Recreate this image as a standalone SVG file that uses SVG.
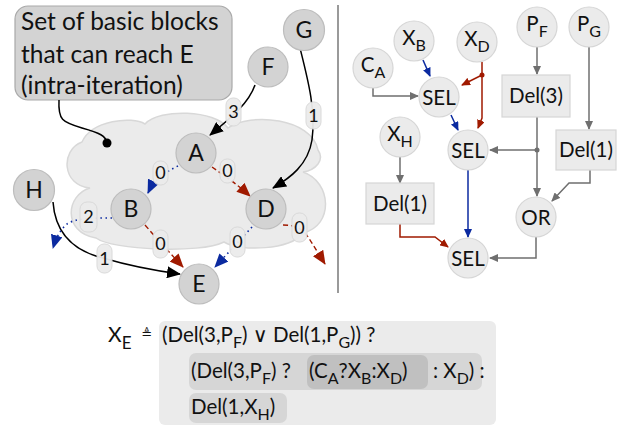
<svg xmlns="http://www.w3.org/2000/svg" width="617" height="427" viewBox="0 0 617 427">
<defs>
<style>
text{font-family:"Lato","Open Sans","DejaVu Sans",sans-serif;fill:#111}
.ln{fill:#d3d3d3;stroke:#bdbdbd;stroke-width:1.2}
.rn{fill:#ebebeb;stroke:#d6d6d6;stroke-width:1.2}
.lt{font-size:23px;text-anchor:middle}
.rt{font-size:20.5px;text-anchor:middle}
.pill{fill:#ececec;stroke:#d9d9d9;stroke-width:1;opacity:0.95}
.pt{font-size:18px;text-anchor:middle}
.blk{fill:none;stroke:#000;stroke-width:1.5}
.bd{fill:none;stroke:#0b2aa0;stroke-width:1.6;stroke-dasharray:1.5 3.5}
.rd{fill:none;stroke:#a01a00;stroke-width:1.4;stroke-dasharray:5 3}
.g{fill:none;stroke:#6f6f6f;stroke-width:1.5}
.rb{fill:none;stroke:#0b2aa0;stroke-width:1.5}
.rr{fill:none;stroke:#a01a00;stroke-width:1.5}
.f{font-size:20.5px}
</style>
<marker id="mk" markerWidth="14" markerHeight="12" refX="13" refY="6" orient="auto" markerUnits="userSpaceOnUse"><path d="M0,0 L14,6 L0,12 z" fill="#000"/></marker>
<marker id="mb" markerWidth="14" markerHeight="12" refX="13" refY="6" orient="auto" markerUnits="userSpaceOnUse"><path d="M0,0 L14,6 L0,12 z" fill="#0b2aa0"/></marker>
<marker id="mr" markerWidth="14" markerHeight="12" refX="13" refY="6" orient="auto" markerUnits="userSpaceOnUse"><path d="M0,0 L14,6 L0,12 z" fill="#a01a00"/></marker>
<marker id="sg" markerWidth="9" markerHeight="8" refX="8" refY="4" orient="auto" markerUnits="userSpaceOnUse"><path d="M0,0 L9,4 L0,8 z" fill="#6f6f6f"/></marker>
<marker id="sb" markerWidth="9" markerHeight="8" refX="8" refY="4" orient="auto" markerUnits="userSpaceOnUse"><path d="M0,0 L9,4 L0,8 z" fill="#0b2aa0"/></marker>
<marker id="sr" markerWidth="9" markerHeight="8" refX="8" refY="4" orient="auto" markerUnits="userSpaceOnUse"><path d="M0,0 L9,4 L0,8 z" fill="#a01a00"/></marker>
</defs>
<rect width="617" height="427" fill="#fff"/>

<g id="cloud">
<path d="M90 188 C62 186 60 150 82 142 C92 120 132 116 145 124 C160 108 215 110 228 128 C250 112 312 118 318 150 C325 160 316 170 303 172 C332 182 334 226 303 233 C292 250 240 252 224 242 C200 254 112 250 96 238 C62 232 66 195 90 188 Z" fill="#ebebeb" stroke="#d8d8d8" stroke-width="1.5"/>
</g>

<g id="label">
<rect x="15" y="6" width="217" height="94" rx="13" fill="#d3d3d3" stroke="#a9a9a9" stroke-width="1.2"/>
<text x="21" y="30" font-size="24.5">Set of basic blocks</text>
<text x="21" y="63" font-size="24.5">that can reach E</text>
<text x="21" y="94" font-size="24.5">(intra-iteration)</text>
</g>

<g id="divider"><line x1="338" y1="5" x2="338" y2="293" stroke="#9a9a9a" stroke-width="2"/></g>

<g id="connectors">
<path class="blk" d="M59 100 C58 120 62 122 82 128 C100 133 106 136 107 143"/>
<circle cx="107" cy="143" r="4.5" fill="#000"/>
<path class="blk" d="M255 85 C248 105 228 120 210 135" marker-end="url(#mk)"/>
<path class="blk" d="M300 48 C308 80 316 110 312 140 C308 165 290 178 273 188" marker-end="url(#mk)"/>
<path class="blk" d="M53 202 C55 230 70 250 103 258 C130 266 150 270 180 274" marker-end="url(#mk)"/>
<path class="bd" d="M178 166 C165 172 154 180 148 193" marker-end="url(#mb)"/>
<path class="rd" d="M212 167 C225 176 238 185 250 196" marker-end="url(#mr)"/>
<path class="bd" d="M112 218 C95 218 75 218 67 224 C60 230 56 238 53 248" marker-end="url(#mb)"/>
<path class="rd" d="M145 225 C158 240 170 253 183 267" marker-end="url(#mr)"/>
<path class="bd" d="M252 227 C240 240 228 253 215 267" marker-end="url(#mb)"/>
<path class="rd" d="M283 225 C300 225 305 232 310 240 C315 248 320 256 325 264" marker-end="url(#mr)"/>

<path class="rb" d="M423 60 L430 76" marker-end="url(#sb)"/>
<path class="g" d="M373 88 L373 96 L418 96" marker-end="url(#sg)"/>
<path class="rr" d="M482 62 L482 118 L478 128" marker-end="url(#sr)"/>
<path class="rr" d="M482 75 L462 85" marker-end="url(#sr)"/>
<circle cx="482" cy="75" r="2.5" fill="#a01a00"/>
<path class="rb" d="M451 115 L458 130" marker-end="url(#sb)"/>
<path class="g" d="M537 47 L537 74" marker-end="url(#sg)"/>
<path class="g" d="M589 47 L589 129" marker-end="url(#sg)"/>
<path class="g" d="M537 117 L537 196" marker-end="url(#sg)"/>
<path class="g" d="M537 150 L490 150" marker-end="url(#sg)"/>
<circle cx="537" cy="150" r="2.5" fill="#6f6f6f"/>
<path class="g" d="M590 170 L590 183 L569 183 L552 201" marker-end="url(#sg)"/>
<path class="g" d="M400 157 L400 183" marker-end="url(#sg)"/>
<path class="rb" d="M468 170 L468 237" marker-end="url(#sb)"/>
<path class="rr" d="M400 224 L400 237 L435 237 L448 247" marker-end="url(#sr)"/>
<path class="g" d="M536 237 L536 258 L490 258" marker-end="url(#sg)"/>
</g>

<g id="pills">
<rect class="pill" x="226" y="98" width="15" height="28" rx="7"/><text class="pt" x="233.5" y="118">3</text>
<rect class="pill" x="306" y="102" width="15" height="27" rx="7"/><text class="pt" x="313.5" y="122">1</text>
<rect class="pill" x="97" y="244" width="15" height="29" rx="7"/><text class="pt" x="104.5" y="265">1</text>
<rect class="pill" x="153" y="161" width="15" height="24" rx="7"/><text class="pt" x="160.5" y="179">0</text>
<rect class="pill" x="220" y="159" width="15" height="24" rx="7"/><text class="pt" x="227.5" y="177">0</text>
<rect class="pill" x="80" y="202" width="17" height="30" rx="7"/><text class="pt" x="88.5" y="223">2</text>
<rect class="pill" x="153" y="230" width="15" height="28" rx="7"/><text class="pt" x="160.5" y="250">0</text>
<rect class="pill" x="230" y="227" width="15" height="30" rx="7"/><text class="pt" x="237.5" y="248">0</text>
<rect class="pill" x="292" y="213" width="15" height="29" rx="7"/><text class="pt" x="299.5" y="234">0</text>
</g>

<g id="G"><circle class="ln" cx="304" cy="30" r="20.5"/><text class="lt" x="304" y="38">G</text></g>
<g id="F"><circle class="ln" cx="268" cy="67" r="20"/><text class="lt" x="268" y="75">F</text></g>
<g id="A"><circle class="ln" cx="196" cy="153" r="20"/><text class="lt" x="196" y="161">A</text></g>
<g id="H"><circle class="ln" cx="34" cy="190" r="20.5"/><text class="lt" x="34" y="198">H</text></g>
<g id="B"><circle class="ln" cx="131" cy="209" r="20"/><text class="lt" x="131" y="217">B</text></g>
<g id="D"><circle class="ln" cx="266" cy="209" r="20"/><text class="lt" x="266" y="217">D</text></g>
<g id="E"><circle class="ln" cx="199" cy="284" r="20"/><text class="lt" x="199" y="292">E</text></g>

<g id="CA"><circle class="rn" cx="373" cy="68" r="20"/><text class="rt" x="373" y="72">C<tspan font-size="16" dy="6">A</tspan></text></g>
<g id="XB"><circle class="rn" cx="414" cy="41" r="20"/><text class="rt" x="414" y="45">X<tspan font-size="16" dy="6">B</tspan></text></g>
<g id="XD"><circle class="rn" cx="477" cy="42" r="20"/><text class="rt" x="477" y="46">X<tspan font-size="16" dy="6">D</tspan></text></g>
<g id="PF"><circle class="rn" cx="537" cy="27" r="20"/><text class="rt" x="537" y="31">P<tspan font-size="16" dy="6">F</tspan></text></g>
<g id="PG"><circle class="rn" cx="589" cy="27" r="20"/><text class="rt" x="589" y="31">P<tspan font-size="16" dy="6">G</tspan></text></g>
<g id="XH"><circle class="rn" cx="400" cy="137" r="20"/><text class="rt" x="400" y="141">X<tspan font-size="16" dy="6">H</tspan></text></g>
<g id="SEL1"><circle class="rn" cx="439" cy="97" r="20"/><text class="rt" x="439" y="104.5">SEL</text></g>
<g id="SEL2"><circle class="rn" cx="468" cy="150" r="20"/><text class="rt" x="468" y="157.5">SEL</text></g>
<g id="SEL3"><circle class="rn" cx="468" cy="258" r="20"/><text class="rt" x="468" y="265.5">SEL</text></g>
<g id="OR"><circle class="rn" cx="536" cy="217" r="20"/><text class="rt" x="536" y="224.5">OR</text></g>
<g id="Del3"><rect class="rn" x="502" y="75" width="68" height="42"/><text class="rt" x="536" y="103">Del(3)</text></g>
<g id="Del1a"><rect class="rn" x="556" y="130" width="60" height="40"/><text class="rt" x="586" y="157">Del(1)</text></g>
<g id="Del1b"><rect class="rn" x="366" y="183" width="68" height="41"/><text class="rt" x="400" y="211">Del(1)</text></g>

<g id="formula">
<text x="108" y="342" font-size="21">X<tspan font-size="17" dy="7">E</tspan></text>
<text x="147" y="338" font-size="13" text-anchor="middle">≜</text>
<rect x="159" y="321" width="337" height="104" rx="6" fill="#ebebeb"/>
<rect x="189" y="353" width="293" height="37" rx="7" fill="#d6d6d6"/>
<rect x="307" y="355" width="121" height="34" rx="7" fill="#c0c0c0"/>
<rect x="189" y="393" width="98" height="30" rx="7" fill="#d6d6d6"/>
<text class="f" x="162" y="342">(Del(3,P<tspan font-size="16" dy="6">F</tspan><tspan dy="-6">) ∨ Del(1,P</tspan><tspan font-size="16" dy="6">G</tspan><tspan dy="-6">)) ?</tspan></text>
<text class="f" x="191" y="378">(Del(3,P<tspan font-size="16" dy="6">F</tspan><tspan dy="-6">) ?</tspan></text>
<text class="f" x="309" y="378">(C<tspan font-size="16" dy="6">A</tspan><tspan dy="-6">?X</tspan><tspan font-size="16" dy="6">B</tspan><tspan dy="-6">:X</tspan><tspan font-size="16" dy="6">D</tspan><tspan dy="-6">)</tspan></text>
<text class="f" x="433" y="378">: X<tspan font-size="16" dy="6">D</tspan><tspan dy="-6">) :</tspan></text>
<text class="f" x="191" y="414">Del(1,X<tspan font-size="16" dy="6">H</tspan><tspan dy="-6">)</tspan></text>
</g>
</svg>
